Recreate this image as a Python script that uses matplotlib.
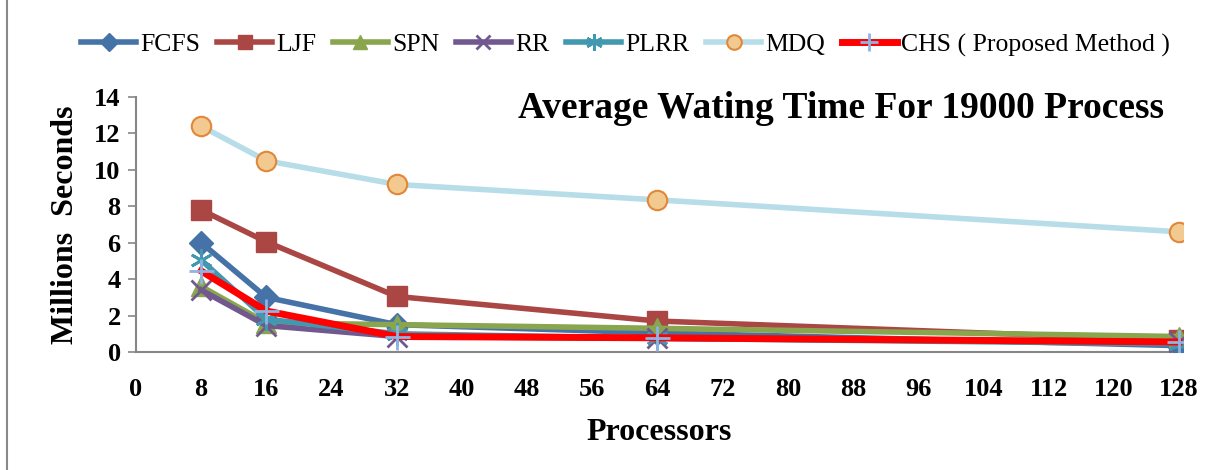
import matplotlib
matplotlib.use("Agg")
import matplotlib.pyplot as plt
from matplotlib.lines import Line2D

processors = [8, 16, 32, 64, 128]
fcfs = [6.0, 3.0, 1.5, 1.05, 0.35]
ljf = [7.8, 6.05, 3.05, 1.7, 0.65]
spn = [3.6, 1.6, 1.5, 1.3, 0.85]
rr = [3.4, 1.45, 0.85, 0.75, 0.55]
plrr = [5.05, 1.8, 1.0, 0.75, 0.45]
mdq = [12.4, 10.5, 9.2, 8.35, 6.6]
chs = [4.45, 2.25, 0.85, 0.78, 0.55]
x_ticks = list(range(0, 129, 8))
y_ticks = list(range(0, 15, 2))

plt.rcParams['font.family'] = ['Liberation Serif', 'DejaVu Serif']

fig = plt.figure(figsize=(12.31, 4.70), dpi=100)
ax = fig.add_axes([136/1231, 1-352/470, (1183-136)/1231, (352-97)/470])

lw = 4
ax.plot(processors, mdq, color='#B7DDE8', lw=lw, marker='o', ms=14,
        mfc='#F2C98E', mec='#E0873A', mew=1.5, label='MDQ', zorder=2)
ax.plot(processors, ljf, color='#AA4643', lw=lw, marker='s', ms=14,
        mfc='#AA4643', mec='#AA4643', label='LJF', zorder=3)
ax.plot(processors, fcfs, color='#4572A7', lw=lw, marker='D', ms=12,
        mfc='#4572A7', mec='#4572A7', label='FCFS', zorder=4)
ax.plot(processors, spn, color='#89A54E', lw=lw, marker='^', ms=14,
        mfc='#89A54E', mec='#89A54E', label='SPN', zorder=4)
ax.plot(processors, rr, color='#71588F', lw=lw, marker='x', ms=14,
        mec='#71588F', mew=2, label='RR', zorder=4)
ax.plot(processors, plrr, color='#4198AF', lw=lw, marker=(6, 2, 0), ms=16,
        mec='#4198AF', mew=2, label='PLRR', zorder=5)
ax.plot(processors, chs, color='#FF0000', lw=lw+1, marker='+', ms=18,
        mec='#8EB4E3', mew=2, label='CHS ( Proposed Method )', zorder=6)

ax.set_xlim(0, 128.5)
ax.set_ylim(0, 14)
ax.set_xticks(x_ticks)
ax.set_yticks(y_ticks)
for s in ['top', 'right']:
    ax.spines[s].set_visible(False)
for s in ['left', 'bottom']:
    ax.spines[s].set_color('#868686')
    ax.spines[s].set_linewidth(1.5)
ax.tick_params(axis='y', length=6, color='#868686', width=1.2, labelsize=19, pad=5)
ax.tick_params(axis='x', length=0, labelsize=19, pad=19)
for lab in ax.get_xticklabels() + ax.get_yticklabels():
    lab.set_fontweight('bold')

ax.set_xlabel('Processors', fontsize=23, fontweight='bold', labelpad=12)
ax.set_ylabel('Millions  Seconds', fontsize=23, fontweight='bold', labelpad=10)

ax.text(0.673, 0.955, 'Average Wating Time For 19000 Process', transform=ax.transAxes,
        ha='center', va='center', fontsize=27, fontweight='bold')

order = ['FCFS', 'LJF', 'SPN', 'RR', 'PLRR', 'MDQ', 'CHS ( Proposed Method )']
handles, labels = ax.get_legend_handles_labels()
hmap = dict(zip(labels, handles))
fig.legend([hmap[k] for k in order], order, loc='center', bbox_to_anchor=(0.508, 1-45/470),
           ncol=7, frameon=False, fontsize=18.5, handlelength=2.15, columnspacing=0.65,
           handletextpad=0.15, markerscale=0.75)

fig.add_artist(Line2D([7/1231, 7/1231], [0, 1], color='#888888', lw=1.5, transform=fig.transFigure))

fig.savefig('out.png', dpi=100)
